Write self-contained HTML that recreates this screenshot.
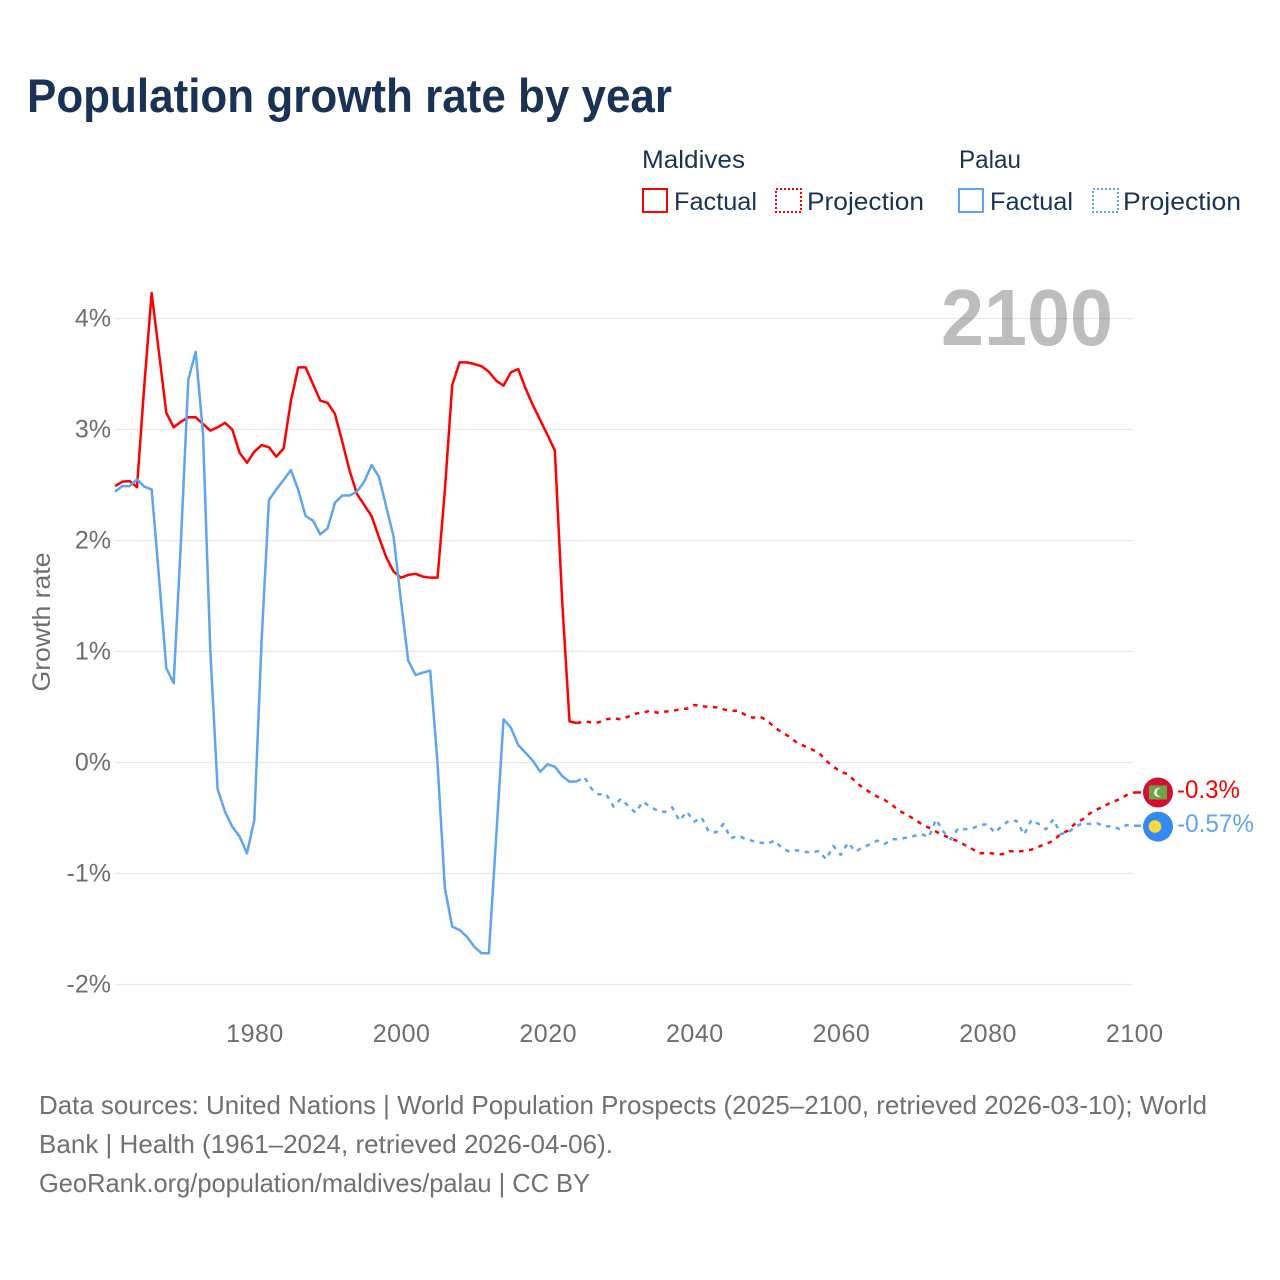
<!DOCTYPE html>
<html lang="en">
<head>
<meta charset="utf-8">
<title>Population growth rate by year</title>
<style>
html,body{margin:0;padding:0;background:#fff;}
svg{display:block;font-family:"Liberation Sans",sans-serif;}
</style>
</head>
<body>
<svg id="chart" xmlns="http://www.w3.org/2000/svg" width="1280" height="1280" viewBox="0 0 1280 1280">
<rect width="1280" height="1280" fill="#ffffff"/>
<text x="27" y="112" font-size="47" font-weight="700" fill="#1a3355" textLength="645" lengthAdjust="spacingAndGlyphs">Population growth rate by year</text>

<g font-size="25" fill="#1a3355">
<text x="642" y="168" textLength="103" lengthAdjust="spacingAndGlyphs">Maldives</text>
<rect x="643" y="189" width="24" height="23" fill="none" stroke="#ff0000" stroke-width="2"/>
<text x="674" y="210" textLength="83" lengthAdjust="spacingAndGlyphs">Factual</text>
<rect x="776" y="189" width="25" height="23" fill="none" stroke="#ff0000" stroke-width="2" stroke-dasharray="2 2"/>
<text x="807" y="210" textLength="117" lengthAdjust="spacingAndGlyphs">Projection</text>
<text x="959" y="168" textLength="62" lengthAdjust="spacingAndGlyphs">Palau</text>
<rect x="959" y="189" width="24" height="23" fill="none" stroke="#5fa5ee" stroke-width="2"/>
<text x="990" y="210" textLength="83" lengthAdjust="spacingAndGlyphs">Factual</text>
<rect x="1093" y="189" width="25" height="23" fill="none" stroke="#5fa5ee" stroke-width="2" stroke-dasharray="2 2"/>
<text x="1123" y="210" textLength="118" lengthAdjust="spacingAndGlyphs">Projection</text>
</g>

<g id="grid"></g>
<text x="941" y="345" font-size="80" font-weight="700" fill="#000000" fill-opacity="0.26" textLength="172" lengthAdjust="spacingAndGlyphs">2100</text>
<g id="yticks"></g>
<g id="xticks"></g>
<text transform="translate(50,622) rotate(-90)" text-anchor="middle" font-size="25" fill="#6e6e6e" textLength="139" lengthAdjust="spacingAndGlyphs">Growth rate</text>
<g id="series"></g>
<g id="markers"></g>

<g font-size="26" fill="#707070">
<text x="39" y="1114" textLength="1168" lengthAdjust="spacingAndGlyphs">Data sources: United Nations | World Population Prospects (2025–2100, retrieved 2026-03-10); World</text>
<text x="39" y="1153" textLength="574" lengthAdjust="spacingAndGlyphs">Bank | Health (1961–2024, retrieved 2026-04-06).</text>
<text x="39" y="1192" textLength="551" lengthAdjust="spacingAndGlyphs">GeoRank.org/population/maldives/palau | CC BY</text>
</g>
</svg>
<script>
const factualYears = [1961,1962,1963,1964,1965,1966,1967,1968,1969,1970,1971,1972,1973,1974,1975,1976,1977,1978,1979,1980,1981,1982,1983,1984,1985,1986,1987,1988,1989,1990,1991,1992,1993,1994,1995,1996,1997,1998,1999,2000,2001,2002,2003,2004,2005,2006,2007,2008,2009,2010,2011,2012,2013,2014,2015,2016,2017,2018,2019,2020,2021,2022,2023,2024];
const projectionYears = [2024,2025,2026,2027,2028,2029,2030,2031,2032,2033,2034,2035,2036,2037,2038,2039,2040,2041,2042,2043,2044,2045,2046,2047,2048,2049,2050,2051,2052,2053,2054,2055,2056,2057,2058,2059,2060,2061,2062,2063,2064,2065,2066,2067,2068,2069,2070,2071,2072,2073,2074,2075,2076,2077,2078,2079,2080,2081,2082,2083,2084,2085,2086,2087,2088,2089,2090,2091,2092,2093,2094,2095,2096,2097,2098,2099,2100];
const maldivesFactual = [2.49,2.53,2.535,2.48,3.4,4.23,3.69,3.15,3.02,3.07,3.11,3.11,3.05,2.99,3.02,3.06,3.0,2.79,2.70,2.80,2.86,2.84,2.755,2.83,3.26,3.56,3.56,3.41,3.26,3.24,3.14,2.89,2.63,2.42,2.32,2.22,2.03,1.85,1.72,1.665,1.69,1.70,1.675,1.665,1.665,2.455,3.40,3.605,3.605,3.59,3.57,3.52,3.44,3.395,3.515,3.545,3.37,3.22,3.085,2.95,2.81,1.45,0.37,0.355];
const maldivesProjection = [0.355,0.37,0.362,0.362,0.389,0.398,0.389,0.413,0.44,0.449,0.467,0.449,0.458,0.464,0.479,0.485,0.518,0.509,0.5,0.497,0.479,0.464,0.467,0.428,0.404,0.413,0.375,0.317,0.269,0.233,0.179,0.149,0.119,0.089,0.016,-0.038,-0.083,-0.107,-0.173,-0.227,-0.269,-0.308,-0.338,-0.383,-0.437,-0.47,-0.509,-0.554,-0.587,-0.623,-0.656,-0.683,-0.71,-0.746,-0.782,-0.818,-0.815,-0.821,-0.827,-0.80,-0.80,-0.797,-0.785,-0.758,-0.734,-0.704,-0.644,-0.614,-0.548,-0.512,-0.458,-0.422,-0.389,-0.356,-0.332,-0.293,-0.27];
const palauFactual = [2.44,2.49,2.49,2.55,2.485,2.46,1.67,0.85,0.715,2.0,3.45,3.70,2.97,1.01,-0.24,-0.443,-0.578,-0.668,-0.818,-0.518,1.10,2.365,2.46,2.545,2.635,2.455,2.22,2.18,2.055,2.11,2.34,2.405,2.405,2.44,2.53,2.68,2.575,2.305,2.035,1.46,0.917,0.788,0.81,0.827,-0.01,-1.134,-1.479,-1.509,-1.569,-1.659,-1.719,-1.719,-0.668,0.389,0.314,0.158,0.088,0.016,-0.083,-0.016,-0.038,-0.122,-0.173,-0.17];
const palauProjection = [-0.17,-0.13,-0.236,-0.287,-0.284,-0.398,-0.326,-0.392,-0.452,-0.353,-0.398,-0.434,-0.446,-0.404,-0.524,-0.443,-0.533,-0.494,-0.623,-0.629,-0.554,-0.683,-0.659,-0.689,-0.707,-0.722,-0.73,-0.704,-0.773,-0.803,-0.791,-0.803,-0.812,-0.797,-0.872,-0.752,-0.833,-0.722,-0.803,-0.764,-0.737,-0.704,-0.734,-0.692,-0.689,-0.677,-0.662,-0.644,-0.674,-0.512,-0.623,-0.692,-0.593,-0.602,-0.593,-0.563,-0.557,-0.632,-0.572,-0.521,-0.527,-0.65,-0.518,-0.554,-0.602,-0.512,-0.644,-0.632,-0.578,-0.548,-0.554,-0.548,-0.578,-0.572,-0.599,-0.563,-0.57];
const yTickValues = [4,3,2,1,0,-1,-2];
const yTickLabels = ["4%","3%","2%","1%","0%","-1%","-2%"];
const xTickValues = [1980,2000,2020,2040,2060,2080,2100];
const xTickLabels = ["1980","2000","2020","2040","2060","2080","2100"];
const endLabels = ["-0.3%","-0.57%"];

const NS = "http://www.w3.org/2000/svg";
const RED = "#ff0000";
const BLUE = "#5fa5ee";
function xScale(year){ return 115 + (year - 1961) * (1134 - 115) / (2100 - 1961); }
function yScale(v){ return 762.5 - v * 111; }
function make(tag, parent){
  const el = document.createElementNS(NS, tag);
  document.getElementById(parent).appendChild(el);
  return el;
}
yTickValues.forEach(function(v, i){
  const line = make("line", "grid");
  
  
  line.setAttribute("x1", 115);
  line.setAttribute("x2", 1133);
  line.setAttribute("y1", yScale(v));
  line.setAttribute("y2", yScale(v));
  line.setAttribute("stroke", "#e8e8e8");
  line.setAttribute("stroke-width", 1.3);
  const t = make("text", "yticks");
  
  
  t.setAttribute("x", 111);
  t.setAttribute("y", yScale(v) + 8.2);
  t.setAttribute("text-anchor", "end");
  t.setAttribute("font-size", 25);
  t.setAttribute("fill", "#6e6e6e");
  t.textContent = yTickLabels[i];
});
xTickValues.forEach(function(y, i){
  const t = make("text", "xticks");
  
  
  t.setAttribute("x", xScale(y) + 0.7);
  t.setAttribute("y", 1042);
  t.setAttribute("text-anchor", "middle");
  t.setAttribute("font-size", 25);
  t.setAttribute("letter-spacing", 0.5);
  t.setAttribute("fill", "#6e6e6e");
  t.textContent = xTickLabels[i];
});
function drawSeries(years, values, color, dash, seriesName){
  const p = make("path", "series");
  
  
  let d = "";
  values.forEach(function(v, i){
    d += (i ? "L" : "M") + xScale(years[i]).toFixed(2) + " " + yScale(v).toFixed(2);
  });
  p.setAttribute("d", d);
  p.setAttribute("fill", "none");
  p.setAttribute("stroke", color);
  p.setAttribute("stroke-width", 2.5);
  p.setAttribute("stroke-linejoin", "round");
  if (dash) p.setAttribute("stroke-dasharray", dash);
}
drawSeries(factualYears, maldivesFactual, RED, null, "maldives-factual-line");
drawSeries(projectionYears, maldivesProjection, RED, "4.5 5.5", "maldives-projection-line");
drawSeries(factualYears, palauFactual, BLUE, null, "palau-factual-line");
drawSeries(projectionYears, palauProjection, BLUE, "4.5 5.5", "palau-projection-line");

const endX = xScale(2100);
const redY = yScale(maldivesProjection[maldivesProjection.length - 1]);
const blueY = yScale(palauProjection[palauProjection.length - 1]);
function stub(y, color, stubName){
  const s = make("line", "markers");
  
  
  s.setAttribute("x1", endX);
  s.setAttribute("x2", endX + 7);
  s.setAttribute("y1", y);
  s.setAttribute("y2", y);
  s.setAttribute("stroke", color);
  s.setAttribute("stroke-width", 2.5);
}
stub(redY, RED, "maldives-end-connector");
stub(blueY, BLUE, "palau-end-connector");

const mvDisc = make("circle", "markers");


mvDisc.setAttribute("cx", endX + 24);
mvDisc.setAttribute("cy", redY);
mvDisc.setAttribute("r", 15);
mvDisc.setAttribute("fill", "#d21034");
const mvField = make("rect", "markers");


mvField.setAttribute("x", endX + 15);
mvField.setAttribute("y", redY - 7);
mvField.setAttribute("width", 18);
mvField.setAttribute("height", 14);
mvField.setAttribute("fill", "#6da544");
const mvMoon = make("circle", "markers");


mvMoon.setAttribute("cx", endX + 24.5);
mvMoon.setAttribute("cy", redY);
mvMoon.setAttribute("r", 4.5);
mvMoon.setAttribute("fill", "#f0f0f0");
const mvCut = make("circle", "markers");


mvCut.setAttribute("cx", endX + 26.5);
mvCut.setAttribute("cy", redY);
mvCut.setAttribute("r", 3.8);
mvCut.setAttribute("fill", "#6da544");
const pwDisc = make("circle", "markers");


pwDisc.setAttribute("cx", endX + 24);
pwDisc.setAttribute("cy", blueY + 0.8);
pwDisc.setAttribute("r", 15);
pwDisc.setAttribute("fill", "#338af3");
const pwSun = make("circle", "markers");


pwSun.setAttribute("cx", endX + 21);
pwSun.setAttribute("cy", blueY + 0.8);
pwSun.setAttribute("r", 6.3);
pwSun.setAttribute("fill", "#ffd83f");
const redLabel = make("text", "markers");


redLabel.setAttribute("x", 1177);
redLabel.setAttribute("y", redY + 5.5);
redLabel.setAttribute("font-size", 25);
redLabel.setAttribute("fill", RED);
redLabel.setAttribute("textLength", 63);
redLabel.setAttribute("lengthAdjust", "spacingAndGlyphs");
redLabel.textContent = endLabels[0];
const blueLabel = make("text", "markers");


blueLabel.setAttribute("x", 1177);
blueLabel.setAttribute("y", blueY + 6.2);
blueLabel.setAttribute("font-size", 25);
blueLabel.setAttribute("fill", BLUE);
blueLabel.setAttribute("textLength", 77);
blueLabel.setAttribute("lengthAdjust", "spacingAndGlyphs");
blueLabel.textContent = endLabels[1];
</script>
</body>
</html>
